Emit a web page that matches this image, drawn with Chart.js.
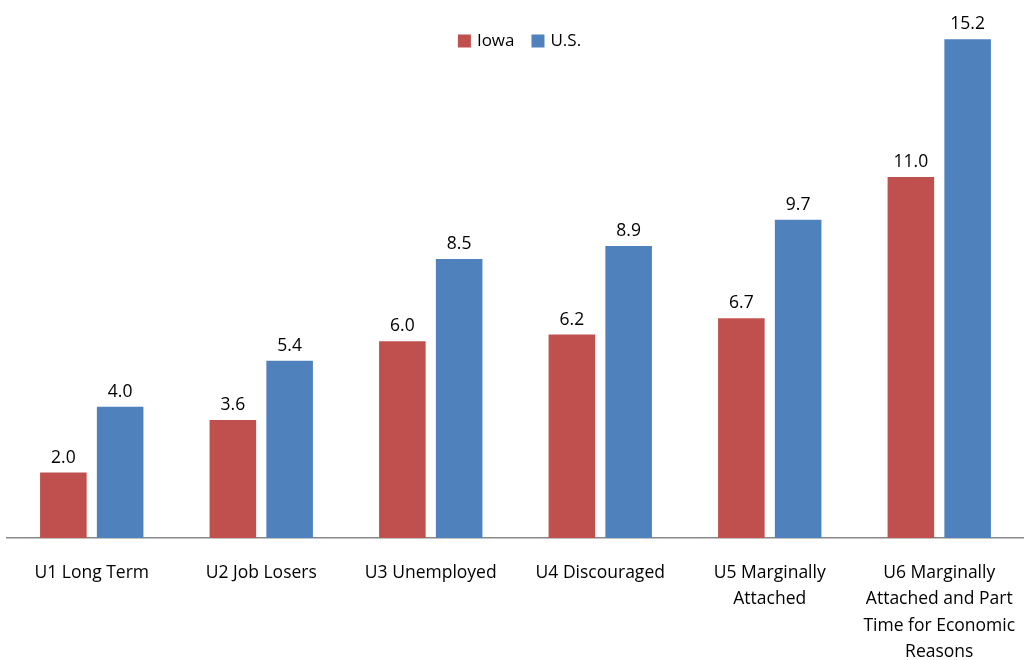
<!DOCTYPE html>
<html>
<head>
<meta charset="utf-8">
<script src="https://cdn.jsdelivr.net/npm/chart.js@4"></script>
<style>
  html, body { margin: 0; padding: 0; background: #fff; }
  #wrap { width: 1024px; height: 660px; }
</style>
</head>
<body>
<div id="wrap"><canvas id="chart"></canvas></div>
<script>
// data
const categories = [
  "U1 Long Term",
  "U2 Job Losers",
  "U3 Unemployed",
  "U4 Discouraged",
  ["U5 Marginally", "Attached"],
  ["U6 Marginally", "Attached and Part", "Time for Economic", "Reasons"]
];
const iowaValues = [2.0, 3.6, 6.0, 6.2, 6.7, 11.0];
const usValues = [4.0, 5.4, 8.5, 8.9, 9.7, 15.2];
const seriesNames = ["Iowa", "U.S."];

const FONT = "'Open Sans', sans-serif";

// value labels above each bar
const barLabels = {
  id: "barLabels",
  afterDatasetsDraw(chart) {
    const ctx = chart.ctx;
    ctx.save();
    ctx.font = "17.5px " + FONT;
    ctx.fillStyle = "#000";
    ctx.textAlign = "center";
    ctx.textBaseline = "bottom";
    chart.data.datasets.forEach((ds, i) => {
      chart.getDatasetMeta(i).data.forEach((bar, j) => {
        ctx.fillText(ds.data[j].toFixed(1), bar.x, bar.y - 6);
      });
    });
    ctx.restore();
  }
};

// legend overlaid on the top of the plot, like the original
const topLegend = {
  id: "topLegend",
  afterDraw(chart) {
    const ctx = chart.ctx;
    const area = chart.chartArea;
    ctx.save();
    ctx.font = "17px " + FONT;
    ctx.textBaseline = "middle";
    const box = 13, gapText = 6, gapItem = 17;
    const ds = chart.data.datasets;
    let total = 0;
    ds.forEach((d, i) => {
      total += box + gapText + ctx.measureText(d.label).width;
      if (i < ds.length - 1) total += gapItem;
    });
    let x = (area.left + area.right) / 2 - total / 2 + 4;
    const y = 41;
    ds.forEach(d => {
      ctx.fillStyle = d.backgroundColor;
      ctx.fillRect(x, y - box / 2, box, box);
      x += box + gapText;
      ctx.fillStyle = "#000";
      ctx.fillText(d.label, x, y);
      x += ctx.measureText(d.label).width + gapItem;
    });
    ctx.restore();
  }
};

new Chart(document.getElementById("chart"), {
  type: "bar",
  data: {
    labels: categories,
    datasets: [
      { label: seriesNames[0], data: iowaValues, backgroundColor: "#C0504D" },
      { label: seriesNames[1], data: usValues, backgroundColor: "#4F81BD" }
    ]
  },
  options: {
    responsive: true,
    maintainAspectRatio: false,
    animation: false,
    categoryPercentage: 0.67,
    barPercentage: 0.82,
    layout: { padding: { left: 7, right: -4, top: 13, bottom: 0 } },
    plugins: {
      legend: { display: false },
      tooltip: { enabled: false }
    },
    scales: {
      x: {
        grid: { display: false, drawTicks: false },
        border: { color: "#888", width: 1.5 },
        ticks: {
          color: "#000",
          padding: 22,
          maxRotation: 0,
          autoSkip: false,
          font: { family: FONT, size: 17.5, lineHeight: 1.5 }
        },
        afterFit(scale) {
          scale.height = 122;
          scale.paddingLeft = 0;
          scale.paddingRight = 0;
        }
      },
      y: {
        display: false,
        min: 0,
        max: 16
      }
    }
  },
  plugins: [barLabels, topLegend]
});
</script>
</body>
</html>
